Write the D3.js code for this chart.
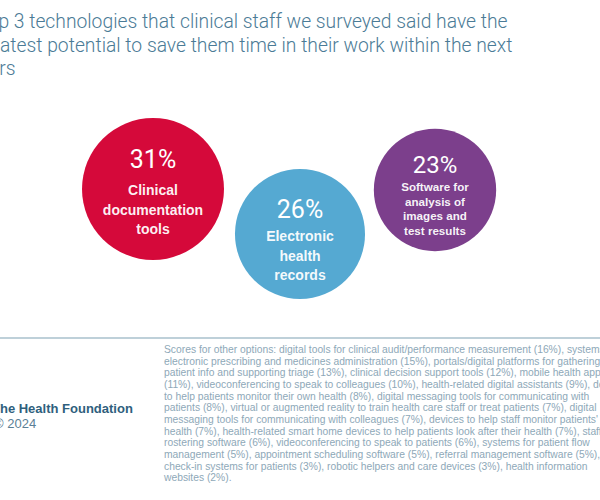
<!DOCTYPE html>
<html><head><meta charset="utf-8">
<script src="https://cdn.jsdelivr.net/npm/d3@7"></script>
<style>html,body{margin:0;padding:0;background:#fff;overflow:hidden}svg{display:block}</style>
</head><body>
<script>
// ---- data ----
const titleLines = [
  "Top 3 technologies that clinical staff we surveyed said have the",
  "greatest potential to save them time in their work within the next",
  "years"
];
const categories = ["Clinical documentation tools", "Electronic health records", "Software for analysis of images and test results"];
const values = [31, 26, 23];
const labelLines = [
  ["Clinical", "documentation", "tools"],
  ["Electronic", "health", "records"],
  ["Software for", "analysis of", "images and", "test results"]
];
const footnoteLines = [
  "Scores for other options: digital tools for clinical audit/performance measurement (16%), systems for",
  "electronic prescribing and medicines administration (15%), portals/digital platforms for gathering",
  "patient info and supporting triage (13%), clinical decision support tools (12%), mobile health apps",
  "(11%), videoconferencing to speak to colleagues (10%), health-related digital assistants (9%), devices",
  "to help patients monitor their own health (8%), digital messaging tools for communicating with",
  "patients (8%), virtual or augmented reality to train health care staff or treat patients (7%), digital",
  "messaging tools for communicating with colleagues (7%), devices to help staff monitor patients'",
  "health (7%), health-related smart home devices to help patients look after their health (7%), staff",
  "rostering software (6%), videoconferencing to speak to patients (6%), systems for patient flow",
  "management (5%), appointment scheduling software (5%), referral management software (5%),",
  "check-in systems for patients (3%), robotic helpers and care devices (3%), health information",
  "websites (2%)."
];
const source = "The Health Foundation";
const copyright = "\u00A9 2024";

// ---- layout / style ----
const W = 600, H = 500;
const colors = ["#d5093a", "#55a9d2", "#7c3f8c"];
const centers = [[153, 189], [300, 234], [435, 190]];
const pctFont = [25, 25, 24];
const labFont = [14, 14, 11.6];
const labGap = [19.5, 19.5, 14.5];
const pctBase = [168, 218, 173];
const labBase = [195, 241, 191];

const svg = d3.select("body").append("svg").attr("width", W).attr("height", H);
const font = "'Liberation Sans', Arial, Helvetica, sans-serif";

// title
svg.append("g").selectAll("text").data(titleLines).join("text")
  .attr("x", (d, i) => [-23, -27, -30][i])
  .attr("y", (d, i) => 28 + i * 23.5)
  .attr("font-family", "Roboto, " + font)
  .attr("font-weight", 300)
  .attr("font-size", 19.3)
  .attr("fill", "#4b7b96")
  .text(d => d);

// bubbles
const r = d3.scaleSqrt().domain([0, d3.max(values)]).range([0, 71]);
const g = svg.append("g").selectAll("g").data(values).join("g");
g.append("circle")
  .attr("cx", (d, i) => centers[i][0])
  .attr("cy", (d, i) => centers[i][1])
  .attr("r", d => r(d))
  .attr("fill", (d, i) => colors[i]);
g.append("text")
  .attr("x", (d, i) => centers[i][0])
  .attr("y", (d, i) => pctBase[i])
  .attr("text-anchor", "middle")
  .attr("font-family", "Roboto, " + font)
  .attr("font-weight", 400)
  .attr("font-size", (d, i) => pctFont[i])
  .attr("fill", "#fff")
  .text(d => d + "%");
g.each(function (d, i) {
  d3.select(this).selectAll("text.lab").data(labelLines[i]).join("text")
    .attr("class", "lab")
    .attr("x", centers[i][0])
    .attr("y", (t, j) => labBase[i] + j * labGap[i])
    .attr("text-anchor", "middle")
    .attr("font-family", font)
    .attr("font-weight", 700)
    .attr("font-size", labFont[i])
    .attr("fill", "#fff")
    .attr("fill-opacity", 0.95)
    .text(t => t);
});

// rule
svg.append("line").attr("x1", 0).attr("x2", W).attr("y1", 338).attr("y2", 338)
  .attr("stroke", "#a8c0cc").attr("stroke-width", 1.5);

// source
svg.append("text").attr("x", -8).attr("y", 413)
  .attr("font-family", font).attr("font-weight", 700).attr("font-size", 13)
  .attr("fill", "#2f5f7d").text(source);
svg.append("text").attr("x", -6).attr("y", 428)
  .attr("font-family", font).attr("font-size", 13)
  .attr("fill", "#5b7f96").text(copyright);

// footnote
svg.append("g").selectAll("text").data(footnoteLines).join("text")
  .attr("x", 164)
  .attr("y", (d, i) => 353 + i * 11.65)
  .attr("font-family", font)
  .attr("font-size", 10.3)
  .attr("fill", "#8ea8b8")
  .text(d => d);
</script>
</body></html>
